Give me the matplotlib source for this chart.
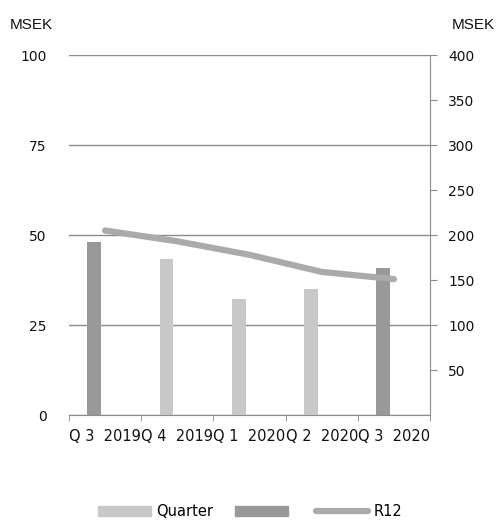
import matplotlib
matplotlib.use("Agg")
import matplotlib.pyplot as plt
import numpy as np
from matplotlib.patches import Patch
from matplotlib.lines import Line2D

categories = ["Q 3  2019", "Q 4  2019", "Q 1  2020", "Q 2  2020", "Q 3  2020"]
quarter = [48.1, 43.2, 32.1, 34.9, 40.9]
highlight = [True, False, False, False, True]  # dark bars: same quarter as current
r12 = [205, 193, 178, 159, 151]

LIGHT = "#c8c8c8"
DARK = "#999999"
LINE = "#aaaaaa"
GRID = "#8c8c8c"
TXT = "#111111"

fig = plt.figure(figsize=(4.96, 5.23), dpi=100)
ax = fig.add_axes([0.139, 0.2065, 0.728, 0.6883])
ax2 = ax.twinx()

x = np.arange(len(categories))
cols = [DARK if h else LIGHT for h in highlight]
ax.bar(x - 0.15, quarter, width=0.19, color=cols, zorder=3)
ax.set_xlim(-0.5, len(categories) - 0.5)
ax.set_ylim(0, 100)
ax.set_yticks([0, 25, 50, 75, 100])
ax.yaxis.grid(True, color=GRID, lw=1)
ax.set_axisbelow(True)
ax.tick_params(axis="y", length=0, pad=16, labelsize=10, labelcolor=TXT)
ax.set_xticks(x)
ax.set_xticklabels(categories, fontsize=10.5, color=TXT)
ax.set_xticks(np.arange(-0.5, len(categories)), minor=True)
ax.tick_params(axis="x", which="major", length=0, pad=10)
ax.tick_params(axis="x", which="minor", length=4, color=GRID)
for s in ["left", "top", "right"]:
    ax.spines[s].set_visible(False)
ax.spines["bottom"].set_color(GRID)

ax2.plot(x, r12, color=LINE, lw=4.5, solid_capstyle="round", zorder=4)
ax2.set_ylim(0, 400)
ax2.set_yticks([50, 100, 150, 200, 250, 300, 350, 400])
ax2.tick_params(axis="y", length=5, color=GRID, pad=8, labelsize=10, labelcolor=TXT)
for s in ["left", "top", "bottom"]:
    ax2.spines[s].set_visible(False)
ax2.spines["right"].set_color(GRID)

fig.text(0.02, 0.953, "MSEK", fontsize=11, family="Liberation Sans", ha="left", va="center", color=TXT)
fig.text(0.998, 0.953, "MSEK", fontsize=11, family="Liberation Sans", ha="right", va="center", color=TXT)

handles = [Patch(color=LIGHT), Patch(color=DARK), Line2D([], [], color=LINE, lw=4.5, solid_capstyle="round")]
fig.legend(handles, ["Quarter", "", "R12"], loc="lower center", bbox_to_anchor=(0.505, -0.018),
           ncol=3, frameon=False, fontsize=10.5, handlelength=3.6, columnspacing=1.5,
           handletextpad=0.4)

fig.savefig("out.png", dpi=100)
